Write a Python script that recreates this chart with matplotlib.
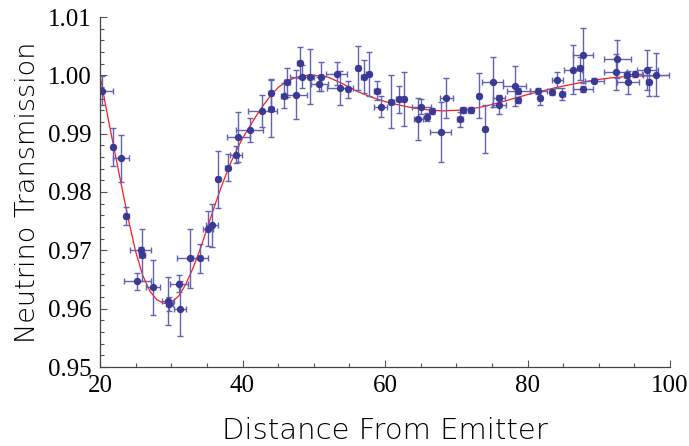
import matplotlib
matplotlib.use("Agg")
import matplotlib.pyplot as plt
from matplotlib.ticker import MultipleLocator, FormatStrFormatter

# measured data (distance, transmission, x error, y error)
dist = [20.3, 21.8, 22.9, 23.7, 25.2, 25.7, 25.9, 27.4, 29.5, 29.7,
        31.1, 31.2, 32.6, 34.1, 35.1, 35.7, 36.6, 37.9, 39.1, 39.4,
        41.0, 42.8, 44.0, 44.0, 45.8, 46.2, 47.5, 48.0, 48.4, 49.5,
        51.0, 50.8, 53.2, 53.7, 54.8, 56.2, 57.0, 57.7, 58.9, 59.4,
        60.9, 61.9, 62.7, 64.7, 65.1, 65.9, 66.6, 67.8, 68.6, 70.5,
        70.9, 72.0, 73.2, 74.0, 75.1, 76.0, 76.0, 78.2, 78.7, 78.7,
        81.5, 81.8, 83.4, 84.2, 84.9, 86.4, 87.3, 87.8, 87.8, 89.4,
        92.6, 92.4, 93.9, 94.1, 95.1, 96.8, 97.0, 98.0]
trans = [0.9974, 0.9877, 0.9858, 0.9759, 0.9647, 0.9701, 0.9692, 0.9637, 0.9613, 0.9608,
         0.9643, 0.9600, 0.9686, 0.9686, 0.9737, 0.9743, 0.9822, 0.9842, 0.9864, 0.9895,
         0.9906, 0.9939, 0.9943, 0.9969, 0.9965, 0.9988, 0.9967, 1.0022, 0.9998, 0.9998,
         0.9998, 0.9985, 1.0003, 0.9979, 0.9976, 1.0013, 0.9998, 1.0002, 0.9974, 0.9946,
         0.9955, 0.9959, 0.9959, 0.9925, 0.9946, 0.9928, 0.9939, 0.9903, 0.9961, 0.9925,
         0.9940, 0.9940, 0.9965, 0.9908, 0.9988, 0.9962, 0.9949, 0.9982, 0.9973, 0.9958,
         0.9973, 0.9961, 0.9971, 0.9992, 0.9968, 1.0010, 1.0012, 1.0034, 0.9977, 0.9991,
         1.0028, 1.0006, 1.0001, 0.9988, 1.0003, 1.0009, 0.9989, 1.0001]
dist_err = [1.5, 0.3, 1.1, 0.3, 1.9, 1.5, 0.4, 1.0, 0.85, 0.5,
            1.3, 0.8, 1.75, 1.1, 0.7, 0.8, 0.3, 0.3, 0.8, 1.6,
            1.9, 2.0, 0.3, 0.3, 0.4, 0.4, 1.5, 0.3, 1.7, 0.3,
            0.3, 1.2, 1.5, 1.8, 0.3, 0.3, 0.3, 0.3, 0.4, 0.9,
            0.3, 0.3, 0.3, 0.6, 1.3, 0.3, 0.3, 1.5, 0.9, 0.4,
            0.4, 0.4, 0.3, 0.3, 1.5, 0.9, 1.0, 1.6, 1.6, 0.3,
            1.2, 0.3, 0.3, 0.8, 0.3, 1.3, 0.3, 1.4, 1.4, 1.4,
            1.9, 1.6, 0.3, 1.5, 1.0, 1.5, 0.3, 1.8]
trans_err = [0.0025, 0.0033, 0.0040, 0.0015, 0.0015, 0.0005, 0.0045, 0.0047, 0.0041, 0.0012,
             0.0015, 0.0047, 0.0050, 0.0025, 0.0030, 0.0037, 0.0049, 0.0023, 0.0015, 0.0043,
             0.0020, 0.0028, 0.0049, 0.0024, 0.0021, 0.0025, 0.0042, 0.0026, 0.0020, 0.0047,
             0.0025, 0.0012, 0.0020, 0.0029, 0.0015, 0.0038, 0.0029, 0.0038, 0.0016, 0.0018,
             0.0046, 0.0023, 0.0046, 0.0036, 0.0013, 0.0007, 0.0005, 0.0052, 0.0035, 0.0013,
             0.0005, 0.0005, 0.0039, 0.0042, 0.0043, 0.0005, 0.0015, 0.0034, 0.0005, 0.0005,
             0.0005, 0.0012, 0.0005, 0.0013, 0.0010, 0.0042, 0.0020, 0.0047, 0.0005, 0.0005,
             0.0033, 0.0031, 0.0005, 0.0020, 0.0005, 0.0034, 0.0025, 0.0037]

# fitted curve
fit_x = [20, 21, 22, 23, 24, 25, 26, 27, 28, 29, 30, 31, 32, 33, 34, 35, 36, 37, 38, 39,
         40, 41, 42, 43, 44, 45, 46, 47, 48, 49, 50, 52, 54, 56, 58, 60, 62, 64, 66, 68,
         70, 72, 74, 76, 78, 80, 82, 84, 86, 88, 90, 92, 94, 96, 98, 100]
fit_y = [1.0000, 0.9935, 0.9873, 0.9812, 0.9752, 0.9698, 0.9657, 0.9630, 0.9615, 0.9609,
         0.9611, 0.9621, 0.9641, 0.9668, 0.9700, 0.9736, 0.9773, 0.9808, 0.9840, 0.9868,
         0.9892, 0.9912, 0.9932, 0.9950, 0.9966, 0.9979, 0.9988, 0.9994, 0.9998, 1.0000,
         1.0000, 0.9997, 0.9986, 0.9973, 0.9963, 0.9955, 0.9949, 0.9944, 0.9941, 0.9939,
         0.9940, 0.9942, 0.9947, 0.9953, 0.9960, 0.9967, 0.9973, 0.9979, 0.9984, 0.9989,
         0.9993, 0.9996, 0.9998, 0.9999, 0.9999, 1.0000]

xticks = [20, 40, 60, 80, 100]
yticks = [0.95, 0.96, 0.97, 0.98, 0.99, 1.00, 1.01]

fig = plt.figure(figsize=(6.89, 4.46), dpi=100)
ax = fig.add_axes([100/689, 1-367/446, 570/689, 350/446])

ax.plot(fit_x, fit_y, color="#ff1a1a", lw=0.9, zorder=1)
ax.errorbar(dist, trans, xerr=dist_err, yerr=trans_err, fmt="o",
            color="#3a3a95", ms=4.3, ecolor="#6262b2", elinewidth=1.0,
            capsize=2.5, capthick=1.0, zorder=2)

ax.set_xlim(20, 100)
ax.set_ylim(0.95, 1.01)
ax.set_xticks(xticks)
ax.set_yticks(yticks)
ax.yaxis.set_major_formatter(FormatStrFormatter("%.2f"))
ax.xaxis.set_minor_locator(MultipleLocator(5))
ax.yaxis.set_minor_locator(MultipleLocator(0.002))
for s in ["top", "right"]:
    ax.spines[s].set_visible(False)
for s in ["left", "bottom"]:
    ax.spines[s].set_color("#444444")
    ax.spines[s].set_linewidth(0.9)
ax.tick_params(which="both", direction="in", color="#555555", width=0.8)
ax.tick_params(which="major", length=5, labelsize=18)
ax.tick_params(which="minor", length=3)
ax.tick_params(axis="y", which="major", pad=6)
ax.tick_params(axis="x", which="major", pad=6)
for lab in ax.get_xticklabels() + ax.get_yticklabels():
    lab.set_family("Liberation Serif")

ax.set_xlabel("Distance From Emitter", fontsize=21, family="DejaVu Sans",
              fontweight="light", labelpad=14)
ax.set_ylabel("Neutrino Transmission", fontsize=19.5, family="DejaVu Sans",
              fontweight="light", labelpad=6)

fig.savefig("out.png", dpi=100)
